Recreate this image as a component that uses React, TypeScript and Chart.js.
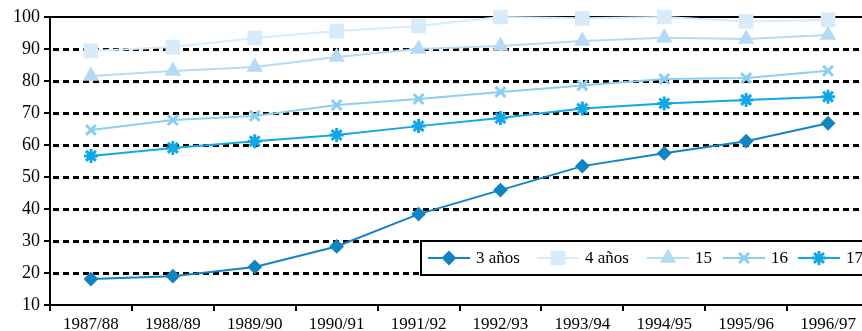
import React, { useEffect, useRef } from 'react';
import { Chart, registerables } from 'chart.js';
import { drawPoint } from 'chart.js/helpers';
Chart.register(...registerables);

const categories = ['1987/88', '1988/89', '1989/90', '1990/91', '1991/92', '1992/93', '1993/94', '1994/95', '1995/96', '1996/97'];
const seriesNames = ['3 años', '4 años', '15', '16', '17'];
const s3 = [18.1, 19.0, 21.9, 28.3, 38.4, 45.9, 53.4, 57.4, 61.2, 66.8];
const s4 = [89.4, 90.6, 93.4, 95.6, 97.2, 100, 99.6, 100, 98.6, 99.1];
const s15 = [81.6, 83.1, 84.4, 87.5, 90.0, 90.9, 92.5, 93.5, 93.1, 94.4];
const s16 = [64.7, 67.8, 69.1, 72.5, 74.4, 76.6, 78.6, 80.6, 80.9, 83.2];
const s17 = [56.6, 59.1, 61.2, 63.1, 65.9, 68.4, 71.4, 73.0, 74.1, 75.1];
const yMin = 10;
const yMax = 100;
const yStep = 10;

const colors = ['#1185c2', '#d8ebfa', '#b5dbf4', '#8ccdf1', '#12a8e6'];
const styles = ['rectRot', 'rect', 'triangle', 'crossRot', 'star'];
const radii = [6, 9, 7.5, 7, 7];
const markerBorder = [2, 2, 2, 3, 3];

const FONT = "'Liberation Serif', 'Times New Roman', serif";

export default function App() {
  const ref = useRef<HTMLCanvasElement>(null);
  useEffect(() => {
    document.body.style.margin = '0';
    const canvas = ref.current!;
    const data = [s3, s4, s15, s16, s17];

    const gridPlugin = {
      id: 'customGrid',
      beforeDatasetsDraw(chart: any) {
        const ctx = chart.ctx;
        const y = chart.scales.y;
        const area = chart.chartArea;
        ctx.save();
        ctx.strokeStyle = '#000';
        for (let v = yMin + yStep; v < yMax; v += yStep) {
          const py = Math.round(y.getPixelForValue(v)) + 0.5;
          ctx.lineWidth = 3;
          ctx.setLineDash([6, 4]);
          ctx.beginPath();
          ctx.moveTo(area.left + 3, py);
          ctx.lineTo(area.right, py);
          ctx.stroke();
        }
        ctx.setLineDash([]);
        ctx.lineWidth = 2;
        const pt = Math.round(y.getPixelForValue(yMax));
        ctx.beginPath();
        ctx.moveTo(area.left, pt);
        ctx.lineTo(area.right, pt);
        ctx.stroke();
        ctx.restore();
      },
    };

    const legendPlugin = {
      id: 'boxLegend',
      afterDatasetsDraw(chart: any) {
        const ctx = chart.ctx;
        const y = chart.scales.y;
        const top = Math.round(y.getPixelForValue(30));
        const bottom = top + 34;
        ctx.save();
        ctx.fillStyle = '#fff';
        ctx.fillRect(421, top, 470, bottom - top);
        ctx.strokeStyle = '#000';
        ctx.lineWidth = 2;
        ctx.strokeRect(421, top, 470, bottom - top);
        const cy = (top + bottom) / 2;
        const starts = [428, 537, 647, 723, 798];
        ctx.font = `17px ${FONT}`;
        ctx.textBaseline = 'middle';
        seriesNames.forEach((name, i) => {
          const x0 = starts[i];
          const x1 = x0 + 42;
          ctx.strokeStyle = colors[i];
          ctx.lineWidth = 2;
          ctx.beginPath();
          ctx.moveTo(x0, cy);
          ctx.lineTo(x1, cy);
          ctx.stroke();
          ctx.fillStyle = colors[i];
          ctx.strokeStyle = colors[i];
          ctx.lineWidth = markerBorder[i];
          drawPoint(ctx, { pointStyle: styles[i], radius: radii[i], rotation: 0, borderWidth: markerBorder[i] } as any, (x0 + x1) / 2, cy);
          ctx.fillStyle = '#000';
          ctx.fillText(name, x1 + 6, cy + 1);
        });
        ctx.restore();
      },
    };

    const chart = new Chart(canvas, {
      type: 'line',
      data: {
        labels: categories,
        datasets: seriesNames.map((name, i) => ({
          label: name,
          data: data[i],
          borderColor: colors[i],
          backgroundColor: colors[i],
          pointBackgroundColor: colors[i],
          pointBorderColor: colors[i],
          pointStyle: styles[i] as any,
          pointRadius: radii[i],
          pointBorderWidth: markerBorder[i],
          borderWidth: 2,
          tension: 0,
          clip: false as any,
        })),
      },
      options: {
        animation: false,
        responsive: false,
        layout: { padding: { top: 17, right: 6, left: 0, bottom: 0 } },
        plugins: { legend: { display: false }, tooltip: { enabled: false } },
        scales: {
          x: {
            type: 'category',
            offset: true,
            grid: { display: true, drawOnChartArea: false, drawTicks: true, tickLength: 6, offset: true, color: '#000', lineWidth: 2 },
            border: { display: true, color: '#000', width: 2 },
            ticks: { color: '#000', font: { family: FONT, size: 17 }, padding: 3, maxRotation: 0, autoSkip: false },
            afterFit: (s: any) => { s.height = 26; },
          },
          y: {
            min: yMin,
            max: yMax,
            grid: { display: true, drawOnChartArea: false, drawTicks: true, tickLength: 6, color: '#000', lineWidth: 2 },
            border: { display: true, color: '#000', width: 2 },
            ticks: { stepSize: yStep, color: '#000', font: { family: FONT, size: 18 }, padding: 4 },
            afterFit: (s: any) => { s.width = 50; },
          },
        },
      },
      plugins: [gridPlugin, legendPlugin],
    });
    return () => chart.destroy();
  }, []);
  return (
    <div style={{ position: 'absolute', left: 0, top: 0, width: 862, height: 331, overflow: 'hidden', background: '#fff' }}>
      <canvas ref={ref} width={880} height={331} style={{ width: 880, height: 331, display: 'block' }} />
    </div>
  );
}
